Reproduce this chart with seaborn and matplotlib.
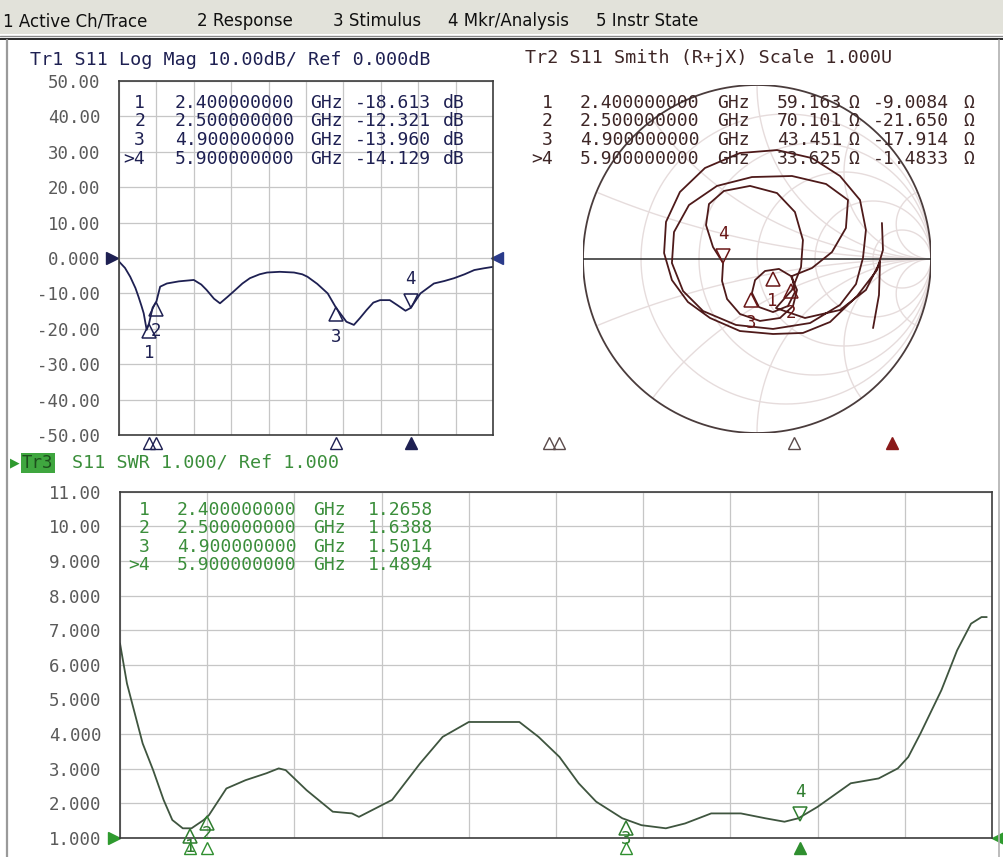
import numpy as np
import pandas as pd
import matplotlib
matplotlib.use("Agg")
import matplotlib.pyplot as plt
import matplotlib.transforms as mtransforms
from matplotlib.lines import Line2D
from matplotlib.patches import Rectangle
import seaborn as sns

# ---------------- values ----------------
# Tr1 : S11 log magnitude (dB) vs frequency (GHz)
freq_ghz = [2.00, 2.08, 2.15, 2.22, 2.26, 2.30, 2.33, 2.37, 2.40, 2.45,
            2.50, 2.55, 2.64, 2.80, 3.00, 3.10, 3.17, 3.27, 3.35, 3.45,
            3.53, 3.65, 3.75, 3.88, 3.98, 4.15, 4.34, 4.45, 4.52, 4.65,
            4.79, 4.90, 5.04, 5.14, 5.22, 5.31, 5.40, 5.49, 5.62, 5.72,
            5.83, 5.90, 6.03, 6.21, 6.35, 6.48, 6.62, 6.75, 6.88, 7.00]
s11_db = [-1.0, -2.8, -5.3, -8.5, -10.9, -13.5, -15.6, -20.3, -18.6, -14.0,
          -12.3, -8.1, -7.2, -6.6, -6.2, -7.5, -9.0, -11.5, -12.8, -11.0,
          -9.5, -7.2, -5.7, -4.6, -4.1, -3.9, -4.1, -4.6, -5.3, -7.3,
          -10.0, -14.0, -18.0, -18.9, -17.0, -14.7, -12.6, -11.9, -11.9, -13.3,
          -14.9, -14.1, -10.0, -7.2, -6.5, -5.7, -4.6, -3.4, -2.9, -2.5]

# Tr3 : S11 SWR vs frequency (GHz)
swr_freq_ghz = [2.00, 2.04, 2.08, 2.13, 2.19, 2.25, 2.30, 2.36, 2.41, 2.48,
                2.51, 2.61, 2.72, 2.84, 2.91, 2.95, 3.07, 3.22, 3.33, 3.37,
                3.56, 3.72, 3.85, 4.00, 4.17, 4.29, 4.40, 4.52, 4.63, 4.73,
                4.88, 4.99, 5.13, 5.24, 5.39, 5.56, 5.70, 5.81, 5.89, 6.00,
                6.19, 6.35, 6.46, 6.52, 6.59, 6.71, 6.80, 6.88, 6.94, 6.97]
s11_swr = [6.62, 5.46, 4.69, 3.73, 2.96, 2.10, 1.52, 1.28, 1.28, 1.52,
           1.66, 2.43, 2.67, 2.87, 3.01, 2.96, 2.38, 1.76, 1.71, 1.61,
           2.10, 3.15, 3.92, 4.35, 4.35, 4.35, 3.92, 3.34, 2.58, 2.05,
           1.57, 1.37, 1.28, 1.42, 1.71, 1.71, 1.57, 1.47, 1.57, 1.90,
           2.58, 2.72, 3.01, 3.34, 4.02, 5.27, 6.42, 7.19, 7.38, 7.38]

# Tr2 : S11 on the Smith chart (reflection coefficient, real / imag)
smith_re = [0.718, 0.724, 0.690, 0.575, 0.420, 0.264, 0.092, -0.098, -0.270, -0.397,
            -0.489, -0.534, -0.523, -0.443, -0.299, -0.098, 0.115, 0.316, 0.477, 0.592,
            0.626, 0.609, 0.569, 0.477, 0.305, 0.092, -0.121, -0.310, -0.425, -0.489,
            -0.477, -0.391, -0.230, -0.029, 0.201, 0.397, 0.523, 0.511, 0.431, 0.316,
            0.201, 0.218, 0.178, 0.092, 0.011, -0.029, -0.011, 0.046, 0.126, 0.195,
            0.230, 0.207, 0.132, 0.017, -0.098, -0.172, -0.201, -0.195, -0.253, -0.293,
            -0.276, -0.190, -0.040, 0.115, 0.218, 0.264, 0.253, 0.201, 0.109, 0.276,
            0.477, 0.626, 0.707, 0.701, 0.667]
smith_im = [0.207, 0.052, -0.063, -0.213, -0.362, -0.425, -0.431, -0.414, -0.339, -0.247,
            -0.121, 0.034, 0.213, 0.385, 0.523, 0.609, 0.626, 0.580, 0.477, 0.339,
            0.167, 0.006, -0.144, -0.264, -0.368, -0.402, -0.379, -0.299, -0.184, -0.023,
            0.155, 0.310, 0.420, 0.471, 0.477, 0.431, 0.339, 0.178, 0.040, -0.052,
            -0.098, -0.190, -0.270, -0.305, -0.276, -0.195, -0.121, -0.069, -0.057, -0.098,
            -0.178, -0.270, -0.339, -0.356, -0.316, -0.230, -0.126, -0.023, 0.069, 0.195,
            0.316, 0.391, 0.420, 0.379, 0.270, 0.109, -0.046, -0.178, -0.282, -0.339,
            -0.293, -0.178, -0.017, -0.207, -0.397]

# markers (from the marker tables)
marker_names = ["1", "2", "3", ">4"]
marker_freq_ghz = [2.4, 2.5, 4.9, 5.9]
marker_db = [-18.613, -12.321, -13.960, -14.129]
marker_swr = [1.2658, 1.6388, 1.5014, 1.4894]
marker_r_ohm = [59.163, 70.101, 43.451, 33.625]
marker_x_ohm = [-9.0084, -21.650, -17.914, -1.4833]

ref_db = 0.0
ref_swr = 1.0
z0_ohm = 50.0

db_ticks = [50, 40, 30, 20, 10, 0, -10, -20, -30, -40, -50]
db_tick_labels = ["50.00", "40.00", "30.00", "20.00", "10.00", "0.000",
                  "-10.00", "-20.00", "-30.00", "-40.00", "-50.00"]
swr_ticks = [11, 10, 9, 8, 7, 6, 5, 4, 3, 2, 1]
swr_tick_labels = ["11.00", "10.00", "9.000", "8.000", "7.000", "6.000",
                   "5.000", "4.000", "3.000", "2.000", "1.000"]

menu_items = ["1 Active Ch/Trace", "2 Response", "3 Stimulus", "4 Mkr/Analysis", "5 Instr State"]
menu_x = [3, 197, 333, 448, 596]

# ---------------- styling ----------------
NAVY = "#1e2052"
MAROON = "#4e1a1a"
MAROON_TXT = "#3e2626"
GREEN_TXT = "#3b8e3b"
SWR_LINE = "#3f553f"
GRID = "#c6c6c6"
FRAME = "#3c3c3c"
TICK = "#5a5a5a"
MONO = "DejaVu Sans Mono"

sns.set_theme(style="white")
plt.rcParams["font.family"] = [MONO, "DejaVu Sans"]

W, H = 1004, 857


def box(x0, y0, x1, y1):
    # pixel box (top-left origin) -> figure fraction rect
    return [x0 / W, 1 - y1 / H, (x1 - x0) / W, (y1 - y0) / H]


def ftext(x, y, s, **kw):
    kw.setdefault("va", "center")
    fig.text(x / W, 1 - y / H, s, **kw)


fig = plt.figure(figsize=(W / 100, H / 100), dpi=100)
fig.patch.set_facecolor("white")

# menu bar and window frame
fig.add_artist(Rectangle((0, 1 - 34 / H), 1, 34 / H, transform=fig.transFigure,
                         facecolor="#e2e2da", edgecolor="none", zorder=0))
for xm, item in zip(menu_x, menu_items):
    ftext(xm, 21, item, ha="left", fontsize=12, family="DejaVu Sans", color="#101010")
fig.add_artist(Line2D([0, 1], [1 - 36 / H] * 2, transform=fig.transFigure, color="#8a8a8a", lw=1.0))
fig.add_artist(Line2D([0, 1], [1 - 39 / H] * 2, transform=fig.transFigure, color="#2a2a2a", lw=1.4))
fig.add_artist(Line2D([7 / W] * 2, [0, 1 - 40 / H], transform=fig.transFigure, color="#9a9a9a", lw=1.6))
fig.add_artist(Line2D([999 / W] * 2, [0, 1 - 40 / H], transform=fig.transFigure, color="#b0b0b0", lw=1.2))


def style_rect_axes(ax, xticks, yticks, ylabels):
    ax.set_xticks(xticks)
    ax.set_yticks(yticks)
    ax.set_yticklabels(ylabels, color=TICK, fontsize=12.5, family=MONO)
    ax.tick_params(axis="y", length=0, pad=13.5)
    ax.tick_params(axis="x", length=0, labelbottom=False)
    ax.grid(True, color=GRID, lw=0.9)
    ax.set_xlabel("")
    ax.set_ylabel("")
    for s in ax.spines.values():
        s.set_visible(True)
        s.set_color(FRAME)
        s.set_linewidth(1.2)


def draw_markers(ax, xs, ys, color, ms=10, lab_off=21):
    for name, x, y in zip(marker_names, xs, ys):
        active = name.startswith(">")
        sign = 1 if active else -1
        tri = mtransforms.offset_copy(ax.transData, fig=fig, x=0, y=sign * ms / 2, units="points")
        ax.plot([x], [y], ls="none", marker="v" if active else "^", ms=ms, mfc="none",
                mec=color, mew=1.1, transform=tri, clip_on=False, zorder=5)
        off = 21 if active else lab_off
        lab = mtransforms.offset_copy(ax.transData, fig=fig, x=0, y=sign * off, units="points")
        ax.text(x, y, name.lstrip(">"), transform=lab, ha="center", va="center",
                color=color, fontsize=12.5, family=MONO, zorder=5)


def draw_stimulus(ax, color, y_axes, dy_pt, ms=8):
    trans = mtransforms.blended_transform_factory(ax.transData, ax.transAxes)
    trans = mtransforms.offset_copy(trans, fig=fig, x=0, y=dy_pt, units="points")
    for name, f in zip(marker_names, marker_freq_ghz):
        active = name.startswith(">")
        ax.plot([f], [y_axes], ls="none", marker="^", ms=ms, mew=1.0, mec=color,
                mfc=color if active else "none", transform=trans, clip_on=False, zorder=5)


def draw_table(rows_y, cols, color):
    for i, y in enumerate(rows_y):
        for x, ha, values in cols:
            ftext(x, y, values[i], ha=ha, color=color, fontsize=13, family=MONO)


# ---------------- Tr1 : log magnitude ----------------
df_db = pd.DataFrame({"freq": freq_ghz, "db": s11_db})
ax1 = fig.add_axes(box(119, 81, 493, 435))
sns.lineplot(data=df_db, x="freq", y="db", ax=ax1, color=NAVY, lw=1.3, estimator=None, sort=False)
ax1.set_xlim(2, 7)
ax1.set_ylim(-50, 50)
style_rect_axes(ax1, np.linspace(2, 7, 11), db_ticks, db_tick_labels)
draw_markers(ax1, marker_freq_ghz, marker_db, NAVY)
draw_stimulus(ax1, NAVY, 0, -6)
ref_l = mtransforms.offset_copy(ax1.transData, fig=fig, x=-5, y=0, units="points")
ax1.plot([2], [ref_db], marker=">", ms=9, color=NAVY, transform=ref_l, clip_on=False)
ref_r = mtransforms.offset_copy(ax1.transData, fig=fig, x=3, y=0, units="points")
ax1.plot([7], [ref_db], marker="<", ms=9, color="#2a3a8a", transform=ref_r, clip_on=False)

ftext(30, 60, "Tr1 S11 Log Mag 10.00dB/ Ref 0.000dB", ha="left", color=NAVY, fontsize=13.2)
draw_table([103, 121.5, 140, 158.5], [
    (145, "right", [n for n in marker_names]),
    (175, "left", [f"{f:.9f}" for f in marker_freq_ghz]),
    (310, "left", ["GHz"] * 4),
    (355, "left", [f"{v:#.5g}" for v in marker_db]),
    (443, "left", ["dB"] * 4),
], NAVY)

# ---------------- Tr2 : Smith chart ----------------
ax2 = fig.add_axes(box(583, 85, 931, 433))
ax2.set_axis_off()
t = np.linspace(0, 2 * np.pi, 721)
SGRID = "#e6dcdc"
for r in [0.2, 0.5, 1.0, 2.0, 5.0]:
    c, rad = r / (1 + r), 1 / (1 + r)
    ax2.plot(c + rad * np.cos(t), rad * np.sin(t), color=SGRID, lw=1.0)
for xr in [0.2, 0.5, 1.0, 2.0, 5.0, -0.2, -0.5, -1.0, -2.0, -5.0]:
    px = 1 + abs(1 / xr) * np.cos(t)
    py = 1 / xr + abs(1 / xr) * np.sin(t)
    inside = px ** 2 + py ** 2 <= 1.0
    ax2.plot(np.where(inside, px, np.nan), np.where(inside, py, np.nan), color=SGRID, lw=1.0)
ax2.plot(np.cos(t), np.sin(t), color="#4a3c3c", lw=1.3)
ax2.plot([-1, 1], [0, 0], color="#2a2a2a", lw=1.1)

df_smith = pd.DataFrame({"re": smith_re, "im": smith_im})
sns.lineplot(data=df_smith, x="re", y="im", ax=ax2, color=MAROON, lw=1.3, estimator=None, sort=False)
ax2.set_xlim(-1, 1)
ax2.set_ylim(-1, 1)
ax2.set_axis_off()

z = (np.array(marker_r_ohm) + 1j * np.array(marker_x_ohm)) / z0_ohm
gamma = (z - 1) / (z + 1)
draw_markers(ax2, gamma.real, gamma.imag, "#6a1818")

ax_ind = fig.add_axes(box(510, 436, 1000, 450))
ax_ind.set_xlim(2, 7)
ax_ind.set_ylim(0, 1)
ax_ind.set_axis_off()
for name, f in zip(marker_names, marker_freq_ghz):
    active = name.startswith(">")
    col = "#8a1a1a" if active else "#5a4a4a"
    ax_ind.plot([f], [0.5], ls="none", marker="^", ms=8, mew=1.0, mec=col,
                mfc=col if active else "none", clip_on=False)

ftext(525, 58, "Tr2 S11 Smith (R+jX) Scale 1.000U", ha="left", color=MAROON_TXT, fontsize=13.2)
draw_table([103, 121.5, 140, 158.5], [
    (553, "right", [n for n in marker_names]),
    (580, "left", [f"{f:.9f}" for f in marker_freq_ghz]),
    (717, "left", ["GHz"] * 4),
    (777, "left", [f"{v:#.5g}" for v in marker_r_ohm]),
    (848, "left", ["\u03a9"] * 4),
    (873, "left", [f"{v:#.5g}" for v in marker_x_ohm]),
    (963, "left", ["\u03a9"] * 4),
], MAROON_TXT)

# ---------------- Tr3 : SWR ----------------
df_swr = pd.DataFrame({"freq": swr_freq_ghz, "swr": s11_swr})
ax3 = fig.add_axes(box(120, 491.7, 992, 838))
sns.lineplot(data=df_swr, x="freq", y="swr", ax=ax3, color=SWR_LINE, lw=1.3, estimator=None, sort=False)
ax3.set_xlim(2, 7)
ax3.set_ylim(1, 11)
style_rect_axes(ax3, np.linspace(2, 7, 11), swr_ticks, swr_tick_labels)
draw_markers(ax3, marker_freq_ghz, marker_swr, "#2f7d2f", lab_off=13)
draw_stimulus(ax3, "#2f8f2f", 0, -7)
ref_l3 = mtransforms.offset_copy(ax3.transData, fig=fig, x=-4, y=0, units="points")
ax3.plot([2], [ref_swr], marker=">", ms=9, color="#2e9a2e", transform=ref_l3, clip_on=False)
ref_r3 = mtransforms.offset_copy(ax3.transData, fig=fig, x=4, y=0, units="points")
ax3.plot([7], [ref_swr], marker="<", ms=9, color="#2e9a2e", transform=ref_r3, clip_on=False)

ftext(10, 463, "\u25b6", ha="left", color="#2e9a2e", fontsize=9, family="DejaVu Sans")
ftext(22, 463, "Tr3", ha="left", color="#1d4f1d", fontsize=12.5,
      bbox=dict(facecolor="#3fa63f", edgecolor="none", pad=1.0))
ftext(72, 463, "S11 SWR 1.000/ Ref 1.000", ha="left", color=GREEN_TXT, fontsize=13.2)
draw_table([510, 528.3, 546.7, 565], [
    (150, "right", [n for n in marker_names]),
    (177, "left", [f"{f:.9f}" for f in marker_freq_ghz]),
    (313, "left", ["GHz"] * 4),
    (368, "left", [f"{v:#.5g}" for v in marker_swr]),
], GREEN_TXT)

fig.savefig("out.png", dpi=100)
